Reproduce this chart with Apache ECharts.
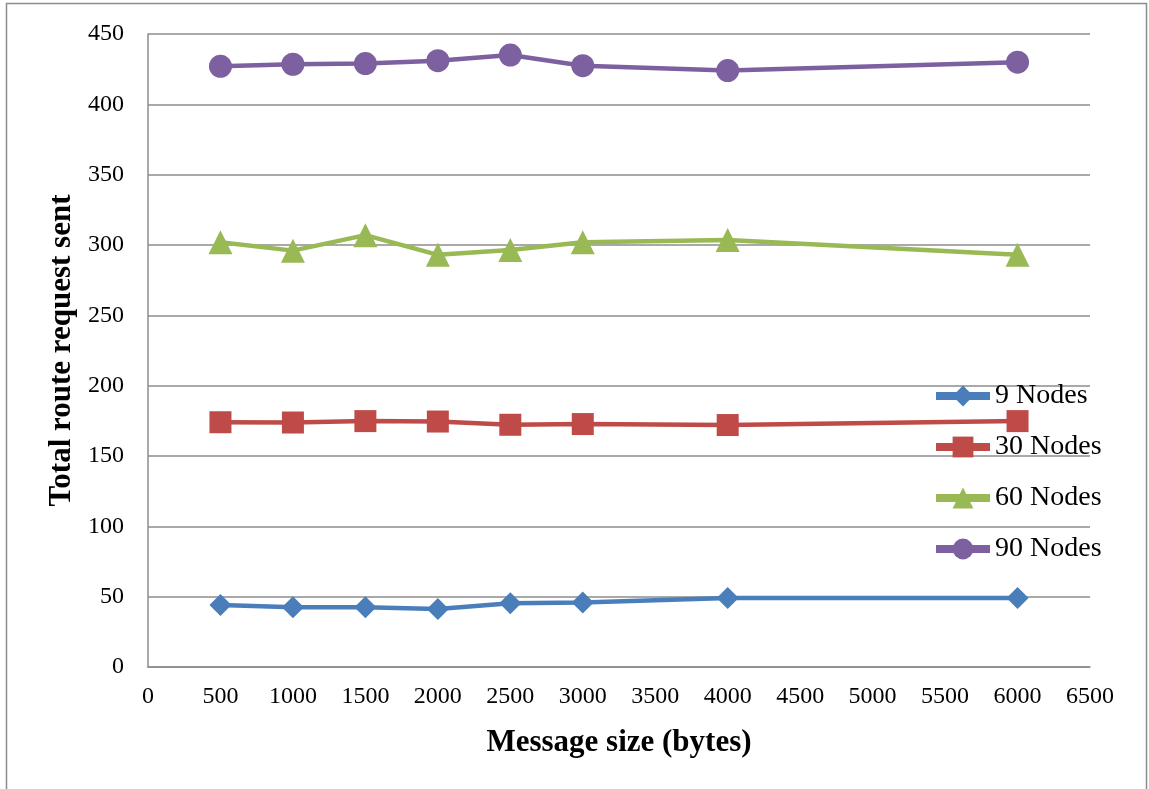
<!DOCTYPE html>
<html>
<head>
<meta charset="utf-8">
<script src="https://cdn.jsdelivr.net/npm/echarts@6/dist/echarts.min.js"></script>
<style>
  html, body { margin: 0; padding: 0; background: #fff; }
  #chart { width: 1149px; height: 789px; }
</style>
</head>
<body>
<div id="chart"></div>
<script>
// Message sizes (bytes) on the x axis
const messageSizes = [500, 1000, 1500, 2000, 2500, 3000, 4000, 6000];

// Total route requests sent, per network size
const nodes9  = [44, 42.5, 42.5, 41.3, 45.4, 45.9, 49, 49];
const nodes30 = [174, 173.8, 174.8, 174.5, 172.2, 172.7, 172, 174.8];
const nodes60 = [302, 296, 307, 293, 296.5, 302, 303.5, 293];
const nodes90 = [427, 428.5, 429, 431, 435, 427.5, 424, 430];

const seriesNames = ['9 Nodes', '30 Nodes', '60 Nodes', '90 Nodes'];
const seriesValues = [nodes9, nodes30, nodes60, nodes90];
const seriesColors = ['#4a7ebb', '#be4b48', '#98b954', '#7d60a0'];
const seriesSymbols = ['diamond', 'rect', 'triangle', 'circle'];
const symbolSizes = [22, 22, 24, 23];

const serif = '"Liberation Serif", "Times New Roman", serif';

const chart = echarts.init(document.getElementById('chart'));

const series = seriesNames.map((name, i) => ({
  name: name,
  type: 'line',
  data: messageSizes.map((x, j) => [x, seriesValues[i][j]]),
  symbol: seriesSymbols[i],
  symbolSize: symbolSizes[i],
  showAllSymbol: true,
  lineStyle: { color: seriesColors[i], width: 4.5 },
  itemStyle: { color: seriesColors[i] },
  emphasis: { disabled: true },
  animation: false,
  z: 3 + i
}));

chart.setOption({
  animation: false,
  backgroundColor: '#ffffff',
  graphic: [{
    type: 'rect',
    shape: { x: 6.5, y: 3.5, width: 1140, height: 800 },
    style: { fill: 'none', stroke: '#8c8c8c', lineWidth: 1.5 },
    silent: true
  }],
  grid: { left: 148, right: 59, top: 34, bottom: 122, containLabel: false },
  legend: {
    orient: 'vertical',
    left: 927,
    top: 377,
    itemWidth: 54,
    itemHeight: 26,
    itemGap: 23,
    data: seriesNames,
    lineStyle: { width: 8 },
    textStyle: { fontFamily: serif, fontSize: 28, color: '#000', lineHeight: 26 }
  },
  xAxis: {
    type: 'value',
    min: 0,
    max: 6500,
    interval: 500,
    name: 'Message size (bytes)',
    nameLocation: 'middle',
    nameGap: 60,
    nameTextStyle: { fontFamily: serif, fontSize: 31, fontWeight: 'bold', color: '#000' },
    axisLine: { show: true, lineStyle: { color: '#8c8c8c', width: 1.5 } },
    axisTick: { show: false },
    splitLine: { show: false },
    axisLabel: {
      fontFamily: serif, fontSize: 24, color: '#000', margin: 18,
      formatter: v => String(v)
    }
  },
  yAxis: {
    type: 'value',
    min: 0,
    max: 450,
    interval: 50,
    name: 'Total route request sent',
    nameLocation: 'middle',
    nameGap: 70,
    nameTextStyle: { fontFamily: serif, fontSize: 31, fontWeight: 'bold', color: '#000' },
    axisLine: { show: true, lineStyle: { color: '#8c8c8c', width: 1.5 } },
    axisTick: { show: false },
    splitLine: { show: true, lineStyle: { color: '#8c8c8c', width: 1.5 } },
    axisLabel: { fontFamily: serif, fontSize: 24, color: '#000', margin: 24 }
  },
  series: series
});
</script>
</body>
</html>
